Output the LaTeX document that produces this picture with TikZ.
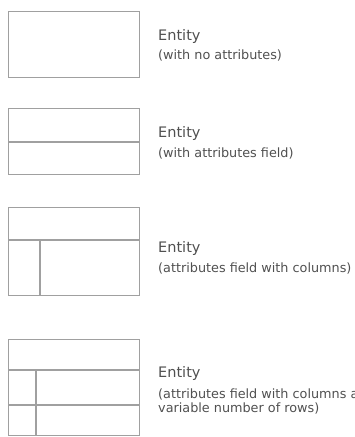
\documentclass[tikz,border=0pt]{standalone}
\usepackage{fontspec}
\setmainfont{DejaVu Sans}
\definecolor{boxgray}{RGB}{160,160,160}
\definecolor{txtgray}{RGB}{80,80,80}
\begin{document}
\begin{tikzpicture}[x=1pt,y=-1pt,
  entbox/.style={draw=boxgray, line width=1.3pt, rectangle, inner sep=0pt,
    anchor=north west, minimum width=131pt},
  divline/.style={draw=boxgray, line width=1.3pt},
  title/.style={anchor=base west, inner sep=0pt, text=txtgray,
    font=\fontsize{14.5}{16}\selectfont},
  sub/.style={anchor=base west, inner sep=0pt, text=txtgray, align=left,
    font=\fontsize{12.8}{14}\selectfont}]
\useasboundingbox (0,0) rectangle (355,437);
% Entity 1
\node[entbox, minimum height=66pt] (b1) at (8,11) {};
\node[title] (t1) at (158,40) {Entity};
\node[sub] (s1) at (158,59.5) {(with no attributes)};
% Entity 2
\node[entbox, minimum height=66pt] (b2) at (8,108) {};
\coordinate (b2l) at (8,142);
\coordinate (b2r) at (139,142);
\draw[divline] (b2l) -- (b2r);
\node[title] (t2) at (158,137) {Entity};
\node[sub] (s2) at (158,157) {(with attributes field)};
% Entity 3
\node[entbox, minimum height=88pt] (b3) at (8,207) {};
\coordinate (b3l) at (8,240);
\coordinate (b3r) at (139,240);
\coordinate (b3c) at (40,240);
\draw[divline] (b3l) -- (b3r);
\draw[divline] (b3c) -- (b3c |- b3.south);
\node[title] (t3) at (158,252) {Entity};
\node[sub] (s3) at (158,272) {(attributes field with columns)};
% Entity 4
\node[entbox, minimum height=96pt] (b4) at (8,339) {};
\coordinate (b4l) at (8,370);
\coordinate (b4r) at (139,370);
\coordinate (b4m) at (8,405);
\coordinate (b4n) at (139,405);
\coordinate (b4c) at (36,370);
\draw[divline] (b4l) -- (b4r);
\draw[divline] (b4m) -- (b4n);
\draw[divline] (b4c) -- (b4c |- b4.south);
\node[title] (t4) at (158,377) {Entity};
\node[sub] (s4) at (158,412) {(attributes field with columns and\\variable number of rows)};
\end{tikzpicture}
\end{document}
